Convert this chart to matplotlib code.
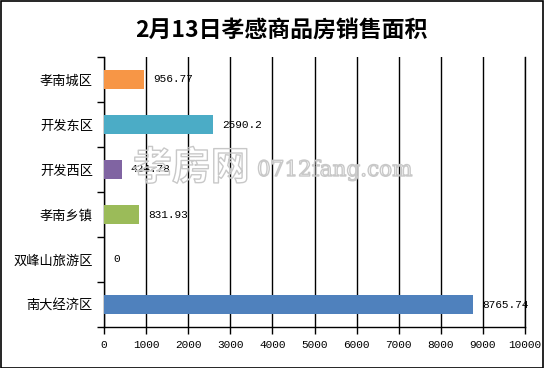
import matplotlib
matplotlib.use('Agg')
from matplotlib import pyplot as plt
import matplotlib.patheffects as path_effects
from matplotlib.patches import Rectangle

plt.rcParams['font.family'] = ['Noto Sans CJK SC', 'DejaVu Sans']

categories = ['孝南城区', '开发东区', '开发西区', '孝南乡镇', '双峰山旅游区', '南大经济区']
values = [956.77, 2590.2, 424.78, 831.93, 0, 8765.74]
value_labels = ['956.77', '2590.2', '424.78', '831.93', '0', '8765.74']
colors = ['#F79646', '#4BACC6', '#8064A2', '#9BBB59', '#4F81BD', '#4F81BD']
xticks = list(range(0, 10001, 1000))

fig = plt.figure(figsize=(5.45, 3.68), dpi=100)
ax = fig.add_axes([104 / 545, 1 - 327 / 368, 421 / 545, 270 / 368])

n = len(categories)
ypos = [n - 1 - i for i in range(n)]
ax.barh(ypos, values, height=0.42, color=colors, zorder=3)

for y, v, lab in zip(ypos, values, value_labels):
    ax.annotate(lab, (v, y), xytext=(9, 0), textcoords='offset pixels',
                va='center', ha='left', fontsize=8, family='Liberation Mono', zorder=4)

ax.set_xlim(0, 10000)
ax.set_ylim(-0.5, n - 0.5)
ax.set_xticks(xticks)
ax.set_xticklabels([str(t) for t in xticks], family='Liberation Mono', fontsize=8)
ax.xaxis.grid(True, color='black', linewidth=1, zorder=1)

ax.set_yticks([i - 0.5 for i in range(n + 1)])
ax.set_yticklabels([])
ax.set_yticks(ypos, minor=True)
ax.set_yticklabels(categories, minor=True, fontsize=9.5)
ax.tick_params(axis='y', which='minor', length=0, pad=8)
ax.tick_params(axis='y', which='major', length=5, width=1, color='black')
ax.tick_params(axis='x', length=5, width=1, color='black', pad=4)

ax.spines['top'].set_visible(False)
for s in ['left', 'bottom', 'right']:
    ax.spines[s].set_color('black')
    ax.spines[s].set_linewidth(1)

fig.text(281 / 545, 1 - 30 / 368, '2月13日孝感商品房销售面积', ha='center', va='center',
         fontsize=16.5, fontweight='bold')

# watermark, outline only
wm = [path_effects.Stroke(linewidth=1.0, foreground='#c8c8c8')]
t1 = fig.text(133 / 545, 1 - 168 / 368, '孝房网', ha='left', va='center', fontsize=28,
              fontweight='bold', color=(1, 1, 1, 0), zorder=10)
t1.set_path_effects(wm)
t2 = fig.text(257 / 545, 1 - 170 / 368, '0712fang.com', ha='left', va='center', fontsize=15.5,
              family='DejaVu Serif', color=(1, 1, 1, 0), zorder=10)
t2.set_path_effects(wm)

fig.patches.append(Rectangle((0.5 / 545, 0.5 / 368), 542 / 545, 366.5 / 368, transform=fig.transFigure,
                             fill=False, edgecolor='black', linewidth=1.2))

fig.savefig('out.png', dpi=100)
